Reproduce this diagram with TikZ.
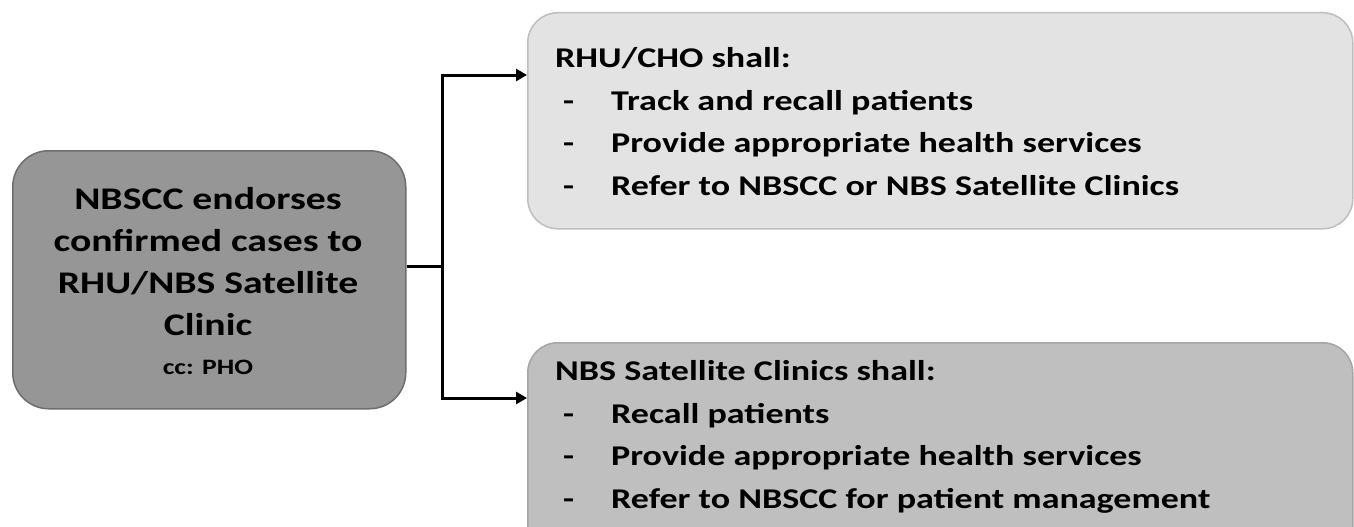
\documentclass[tikz,border=0pt]{standalone}
\usepackage{fontspec}
\setmainfont{Carlito}[FakeStretch=1.26]
\usetikzlibrary{arrows.meta}
\definecolor{leftfill}{RGB}{150,150,150}
\definecolor{leftline}{RGB}{110,110,110}
\definecolor{topfill}{RGB}{227,227,227}
\definecolor{topline}{RGB}{190,190,190}
\definecolor{botfill}{RGB}{191,191,191}
\definecolor{botline}{RGB}{165,165,165}
\tikzset{
  box/.style={draw, line width=1.5pt, inner sep=0pt, anchor=north west},
  conn/.style={line width=3pt, -{Triangle[length=11pt,width=12pt]}},
  bodytext/.style={font=\bfseries\fontsize{28.6}{42.5}\selectfont, align=left, anchor=north west, inner sep=0pt},
}
\newcommand{\itm}[1]{\hspace*{8pt}\makebox[48pt][l]{-}#1}
\begin{document}
\begin{tikzpicture}[x=1pt,y=-1pt]
\clip (0,0) rectangle (1354,527);
\fill[white] (0,0) rectangle (1354,527);
% left box
\node[box, fill=leftfill, draw=leftline, rounded corners=36pt,
      minimum width=393pt, minimum height=258pt] (left) at (12,150) {};
\node[font=\bfseries\fontsize{31.5}{42}\selectfont, align=center, inner sep=0pt] (lefttext) at (208,262)
  {NBSCC endorses\\confirmed cases to\\RHU/NBS Satellite\\Clinic};
\node[font=\bfseries\fontsize{22}{26}\selectfont, inner sep=0pt] (cc) at (208,367) {cc: PHO};
% top right box
\node[box, fill=topfill, draw=topline, rounded corners=30pt,
      minimum width=825pt, minimum height=216pt] (rhu) at (527,12) {};
\node[bodytext] (rhutext) at (555,47.3)
  {RHU/CHO shall:\\\itm{Track and recall patients}\\\itm{Provide appropriate health services}\\\itm{Refer to NBSCC or NBS Satellite Clinics}};
% bottom right box
\node[box, fill=botfill, draw=botline, rounded corners=30pt,
      minimum width=825pt, minimum height=230pt] (nbs) at (527,342) {};
\node[bodytext] (nbstext) at (555,360.3)
  {NBS Satellite Clinics shall:\\\itm{Recall patients}\\\itm{Provide appropriate health services}\\\itm{Refer to NBSCC for patient management}};
% connectors
\coordinate (split) at (442,266);
\coordinate (topend) at (527,75);
\coordinate (botend) at (527,398);
\draw[line width=3pt] (left.east |- split) -- (split);
\draw[conn] (split) |- (topend);
\draw[conn] (split) |- (botend);
\end{tikzpicture}
\end{document}
